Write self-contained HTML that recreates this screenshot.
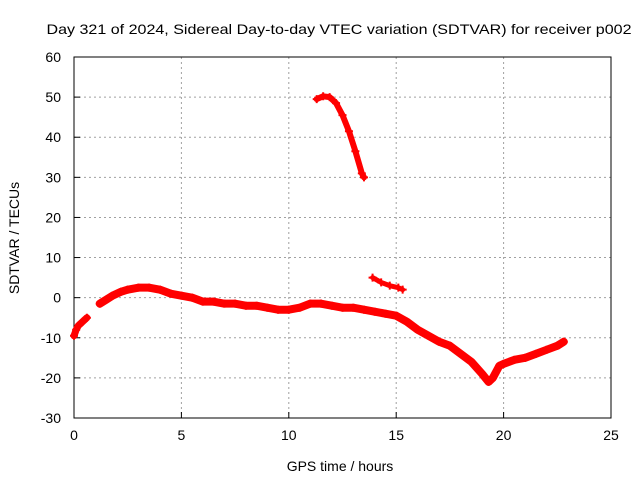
<!DOCTYPE html>
<html><head><meta charset="utf-8"><style>
html,body{margin:0;padding:0;background:#fff}
svg{display:block;font-family:"Liberation Sans",sans-serif}
</style></head><body>
<svg id="chart" width="640" height="480" viewBox="0 0 640 480" xmlns="http://www.w3.org/2000/svg">
<text x="339" y="34" font-size="14" text-anchor="middle" textLength="585" lengthAdjust="spacingAndGlyphs">Day 321 of 2024, Sidereal Day-to-day VTEC variation (SDTVAR) for receiver p002</text>
<g id="grid"></g>
<g id="axes"></g>
<g id="series"></g>
<text x="340" y="471" font-size="14" text-anchor="middle">GPS time / hours</text>
<text transform="translate(19,238) rotate(-90)" font-size="14" text-anchor="middle">SDTVAR / TECUs</text>
</svg>
<script>
const xTicks=[0,5,10,15,20,25];
const yTicks=[-30,-20,-10,0,10,20,30,40,50,60];
const earlyHours=[0,0.1,0.2,0.4,0.6];
const earlyValues=[-9.5,-8,-7,-6,-5];
const mainHours=[1.2,1.5,1.8,2.2,2.5,3.0,3.5,4.0,4.5,5.0,5.5,6,6.5,7,7.5,8,8.5,9,9.5,10,10.5,11,11.5,12,12.5,13,13.5,14,14.5,15,15.5,16,16.5,17,17.5,18,18.5,19,19.3,19.5,19.8,20,20.5,21,21.5,22,22.5,22.8];
const mainValues=[-1.5,-0.5,0.5,1.5,2,2.5,2.5,2,1,0.5,0,-1,-1,-1.5,-1.5,-2,-2,-2.5,-3,-3,-2.5,-1.5,-1.5,-2,-2.5,-2.5,-3,-3.5,-4,-4.5,-6,-8,-9.5,-11,-12,-14,-16,-19,-21,-20,-17,-16.5,-15.5,-15,-14,-13,-12,-11];
const arcHours=[11.3,11.6,11.9,12.2,12.5,12.8,13.1,13.4,13.5];
const arcValues=[49.5,50.2,50,48.5,45.5,41.5,36.5,31,30];
const shortHours=[13.9,14.3,14.7,15.1,15.3];
const shortValues=[5,3.8,3,2.5,2];
const X0=74,X1=611,Y0=418,Y1=57;
const xs=h=>X0+(h-0)/(25-0)*(X1-X0);
const ys=v=>Y0-(v+30)/(90)*(Y0-Y1);
const NS="http://www.w3.org/2000/svg";
function mk(tag,attrs,parent){const e=document.createElementNS(NS,tag);for(const k in attrs)e.setAttribute(k,attrs[k]);parent.appendChild(e);return e;}
const grid=document.getElementById('grid'),axes=document.getElementById('axes'),ser=document.getElementById('series');
xTicks.forEach(t=>{
  if(t>0&&t<25){const l=mk('line',{x1:xs(t),x2:xs(t),y1:Y1,y2:Y0,stroke:'#a0a0a0','stroke-dasharray':'2,3'},grid);
  
  }
  const tk=mk('line',{x1:xs(t),x2:xs(t),y1:Y0,y2:Y0-6,stroke:'#000'},axes);
  
  
  const tx=mk('text',{x:xs(t),y:Y0+22,'font-size':14,'text-anchor':'middle'},axes);tx.textContent=t;
  
  
});
yTicks.forEach(t=>{
  if(t>-30&&t<60){const l=mk('line',{x1:X0,x2:X1,y1:ys(t),y2:ys(t),stroke:'#a0a0a0','stroke-dasharray':'2,3'},grid);
  
  }
  const tk=mk('line',{x1:X0,x2:X0+6,y1:ys(t),y2:ys(t),stroke:'#000'},axes);
  
  
  const tx=mk('text',{x:X0-13,y:ys(t)+5,'font-size':14,'text-anchor':'end'},axes);tx.textContent=t;
  
  
});
const frame=mk('rect',{x:X0,y:Y1,width:X1-X0,height:Y0-Y1,fill:'none',stroke:'#000'},axes);


function draw(hs,vs,w,name){
  const pts=hs.map((h,i)=>xs(h)+','+ys(vs[i])).join(' ');
  const pl=mk('polyline',{points:pts,fill:'none',stroke:'#ff0000','stroke-width':w,'stroke-linejoin':'round','stroke-linecap':'round'},ser);
  
  
  hs.forEach((h,i)=>{const x=xs(h),y=ys(vs[i]);
    const p=mk('path',{d:`M${x-4},${y}H${x+4}M${x},${y-4}V${y+4}`,stroke:'#ff0000','stroke-width':2},ser);
    
    });
}
draw(earlyHours,earlyValues,7,'early-series');
draw(mainHours,mainValues,8,'main-series');
draw(arcHours,arcValues,6,'arc-series');
draw(shortHours,shortValues,5,'short-series');
</script>
</body></html>
